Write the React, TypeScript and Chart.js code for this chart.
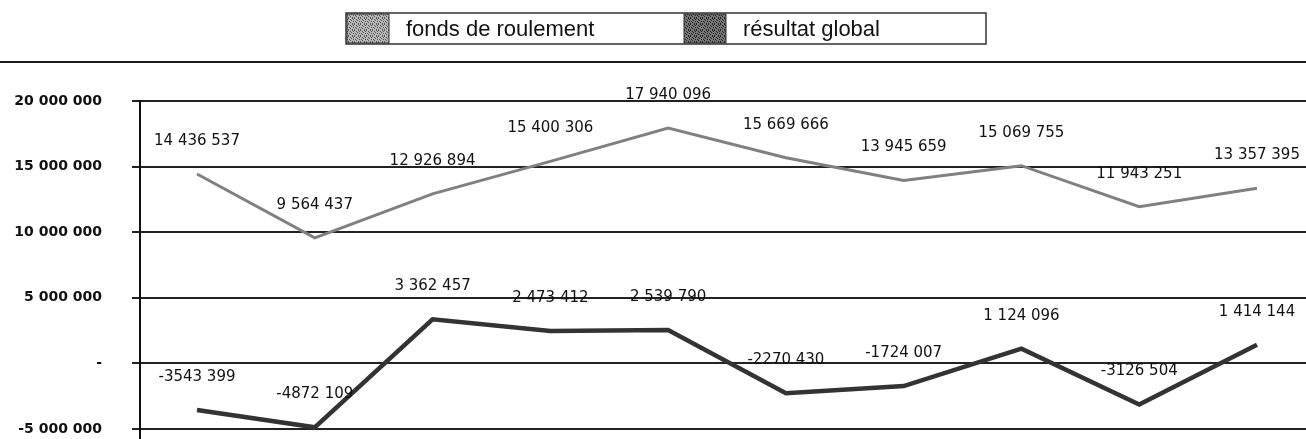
import React, { useEffect, useRef } from "react";
import { Chart, registerables } from "chart.js";

Chart.register(...registerables);

// ---- data ----
const categories = ["1", "2", "3", "4", "5", "6", "7", "8", "9", "10"];
const fondsDeRoulement = [14436537, 9564437, 12926894, 15400306, 17940096, 15669666, 13945659, 15069755, 11943251, 13357395];
const resultatGlobal = [-3543399, -4872109, 3362457, 2473412, 2539790, -2270430, -1724007, 1124096, -3126504, 1414144];
const yTickValues = [-5000000, 0, 5000000, 10000000, 15000000, 20000000];
const seriesNames = ["fonds de roulement", "résultat global"];

function groupDigits(n: number): string {
  return Math.abs(Math.round(n)).toString().replace(/\B(?=(\d{3})+(?!\d))/g, " ");
}
function tickLabel(v: number): string {
  if (v === 0) return "-";
  return (v < 0 ? "-" : "") + groupDigits(v);
}
function dataLabel(v: number): string {
  const s = groupDigits(v);
  return v < 0 ? "-" + s.replace(" ", "") : s;
}

function makePattern(ctx: CanvasRenderingContext2D, base: string, dark: string) {
  const c = document.createElement("canvas");
  c.width = 6;
  c.height = 6;
  const p = c.getContext("2d")!;
  p.fillStyle = base;
  p.fillRect(0, 0, 6, 6);
  p.fillStyle = dark;
  const dots = [[0, 0], [2, 1], [4, 0], [1, 3], [3, 2], [5, 3], [0, 5], [2, 4], [4, 5], [5, 1]];
  dots.forEach(([x, y]) => p.fillRect(x, y, 1, 1));
  return ctx.createPattern(c, "repeat");
}

const decorPlugin = {
  id: "decor",
  afterDraw(chart: any) {
    const ctx: CanvasRenderingContext2D = chart.ctx;
    ctx.save();
    // rule under legend
    ctx.strokeStyle = "#1a1a1a";
    ctx.lineWidth = 2;
    ctx.beginPath();
    ctx.moveTo(0, 62);
    ctx.lineTo(chart.width, 62);
    ctx.stroke();

    // legend box
    const bx = 346, by = 13, bw = 640, bh = 31;
    ctx.lineWidth = 1.5;
    ctx.strokeStyle = "#333";
    ctx.strokeRect(bx, by, bw, bh);
    const items = [
      { sx: 347, tx: 406, pat: makePattern(ctx, "#b8b8b8", "#555") },
      { sx: 684, tx: 743, pat: makePattern(ctx, "#777", "#222") },
    ];
    ctx.font = "22px 'Liberation Sans', Arial, sans-serif";
    ctx.textBaseline = "middle";
    ctx.textAlign = "left";
    items.forEach((it, i) => {
      ctx.fillStyle = it.pat as any;
      ctx.fillRect(it.sx, by + 1, 42, bh - 2);
      ctx.strokeStyle = "#333";
      ctx.lineWidth = 1;
      ctx.strokeRect(it.sx, by + 1, 42, bh - 2);
      ctx.fillStyle = "#111";
      ctx.fillText(chart.data.datasets[i].label, it.tx, by + bh / 2 + 1);
    });
    ctx.restore();
  },
};

const labelPlugin = {
  id: "pointLabels",
  afterDatasetsDraw(chart: any) {
    const ctx: CanvasRenderingContext2D = chart.ctx;
    ctx.save();
    ctx.font = "15px 'DejaVu Sans', Verdana, sans-serif";
    ctx.fillStyle = "#111";
    ctx.textAlign = "center";
    ctx.textBaseline = "middle";
    chart.data.datasets.forEach((ds: any, i: number) => {
      const meta = chart.getDatasetMeta(i);
      meta.data.forEach((pt: any, j: number) => {
        ctx.fillText(dataLabel(ds.data[j].y), pt.x, pt.y - 33);
      });
    });
    ctx.restore();
  },
};

export default function App() {
  const ref = useRef<HTMLCanvasElement>(null);
  useEffect(() => {
    if (!ref.current) return;
    const chart = new Chart(ref.current, {
      type: "line",
      data: {
        labels: categories,
        datasets: [
          {
            label: seriesNames[0],
            data: fondsDeRoulement.map((v, i) => ({ x: i, y: v })),
            borderColor: "#808080",
            borderWidth: 3,
            pointRadius: 0,
            tension: 0,
            fill: false,
          },
          {
            label: seriesNames[1],
            data: resultatGlobal.map((v, i) => ({ x: i, y: v })),
            borderColor: "#333333",
            borderWidth: 4.5,
            pointRadius: 0,
            tension: 0,
            fill: false,
          },
        ],
      },
      options: {
        animation: false,
        responsive: false,
        layout: { padding: { top: 101, left: 0, right: 0, bottom: 0 } },
        plugins: { legend: { display: false }, tooltip: { enabled: false }, title: { display: false } },
        scales: {
          x: {
            type: "linear",
            display: false,
            min: -0.484,
            max: 9.416,
          },
          y: {
            type: "linear",
            min: -5760000,
            max: 20000000,
            afterBuildTicks: (scale: any) => {
              scale.ticks = yTickValues.map((v) => ({ value: v }));
            },
            afterFit: (scale: any) => {
              scale.width = 140;
              scale.paddingTop = 0;
              scale.paddingBottom = 0;
            },
            grid: {
              color: "#222",
              lineWidth: 2,
              drawTicks: true,
              tickLength: 8,
            },
            border: { display: true, color: "#111", width: 2 },
            ticks: {
              padding: 30,
              color: "#111",
              font: { family: "'DejaVu Sans', Verdana, sans-serif", size: 14, weight: "bold" },
              callback: (v: any) => tickLabel(Number(v)),
            },
          },
        },
      },
      plugins: [decorPlugin, labelPlugin],
    });
    return () => chart.destroy();
  }, []);
  return (
    <div style={{ width: 1306, height: 439 }}>
      <style>{"body{margin:0;background:#fff}"}</style>
      <canvas ref={ref} width={1306} height={439} />
    </div>
  );
}
